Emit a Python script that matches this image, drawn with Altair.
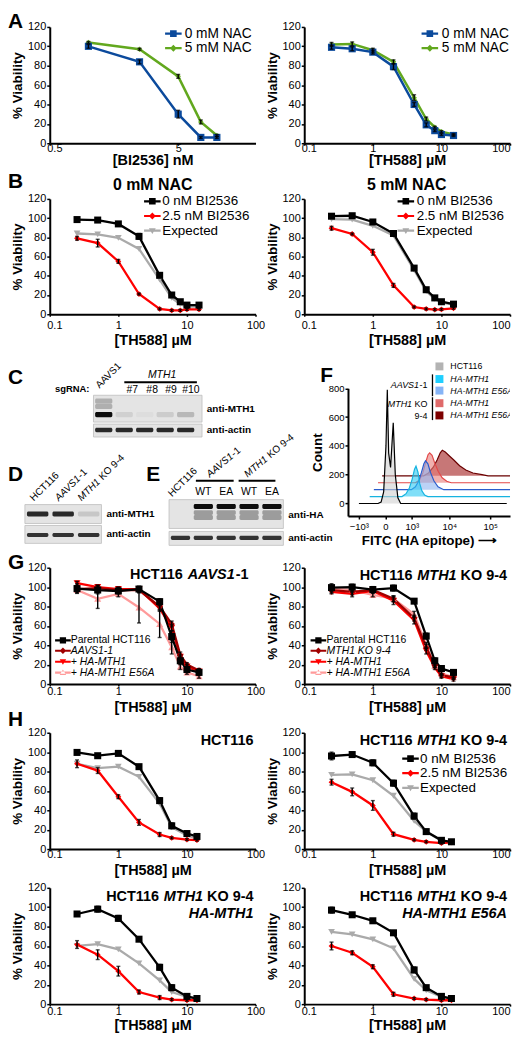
import altair as alt
import pandas as pd
import numpy as np

FONT = "Liberation Sans"

# ======================= DATA =======================
# Panel A
bi2536_nM = [1, 2.5, 5, 7.5, 10]
A1_nac0 = [100, 84, 30, 6, 6]
A1_nac0_err = [2, 2, 4, 1, 1]
A1_nac5 = [104, 97, 69, 22, 8]
A1_nac5_err = [1, 1, 2, 2, 1]

th588_9 = [0.25, 0.5, 1, 2, 4, 6, 8, 10, 15]
A2_nac0 = [99, 97.5, 94, 79, 40, 19, 13, 9, 8]
A2_nac0_err = [2, 2, 2, 3, 2, 2, 1, 1, 1]
A2_nac5 = [102, 102.5, 96, 84, 47, 25, 16.5, 12, 9]
A2_nac5_err = [2, 2, 2, 2, 3, 2, 1, 1, 1]

# Panel B
B1_bi0 = [98.5, 98, 94, 81, 40.5, 20, 13, 9.5, 9.5]
B1_bi0_err = [2, 2, 2, 3, 2, 2, 1, 2, 2]
B1_bi25 = [79, 74, 55, 21, 5.5, 4, 4, 5, 5]
B1_bi25_err = [2, 4, 2, 1, 1, 1, 1, 1, 1]
B1_exp = [84, 83, 79.5, 68, 36, 17, 10.5, 8, 8]

B2_bi0 = [102, 102.5, 96, 84, 48, 25.5, 17, 13, 10.5]
B2_bi0_err = [2, 2, 2, 2, 2, 2, 2, 2, 2]
B2_bi25 = [89.5, 83.5, 64.5, 30, 7.5, 5.5, 4.8, 5, 6.2]
B2_bi25_err = [2, 1, 3, 2, 1, 1, 1, 1, 1]
B2_exp = [99, 98.5, 92, 82, 46, 24, 16, 12, 10]

# Panel C / D / E blots (lane intensities 0..1)
C_lanes = ["AAVS1", "#7", "#8", "#9", "#10"]
C_mth1_band = [1.0, 0.08, 0.03, 0.1, 0.18]
C_mth1_upper = [0.22, 0, 0, 0, 0]
C_actin_band = [0.85, 0.85, 0.85, 0.85, 0.85]
D_lanes = ["HCT116", "AAVS1-1", "MTH1 KO 9-4"]
D_mth1_band = [0.85, 0.85, 0.12]
D_actin_band = [0.8, 0.8, 0.8]
E_lanes = ["HCT116", "WT", "EA", "WT", "EA"]
E_ha_band = [0, 1.0, 1.0, 1.0, 1.0]
E_ha_lower = [0, 0.3, 0.3, 0.3, 0.3]
E_actin_band = [0.8, 0.8, 0.8, 0.8, 0.8]

# Panel F flow histograms (FITC value, count)
flow_names = ["HCT116", "AAVS1-1: HA-MTH1", "AAVS1-1: HA-MTH1 E56A",
              "KO: HA-MTH1", "KO: HA-MTH1 E56A"]
flow_fitc = [
    [-1000, -150, -80, -30, 10, 34, 60, 100, 164, 220, 300, 400, 250000],
    [-600, 300, 450, 600, 750, 900, 1000, 1150, 1300, 1500, 1800, 2200, 250000],
    [-600, 500, 700, 900, 1100, 1300, 1450, 1700, 2000, 2500, 3200, 4500, 250000],
    [-600, 500, 700, 900, 1100, 1300, 1450, 1700, 2000, 2500, 3200, 4200, 5500, 250000],
    [-600, 700, 1000, 1400, 1800, 2200, 2500, 3000, 3800, 5000, 7000, 10000, 15000, 25000, 35000, 250000],
]
flow_count = [
    [0, 0, 10, 80, 400, 790, 350, 250, 560, 200, 40, 0, 0],
    [0, 0, 20, 60, 120, 190, 211, 170, 90, 40, 10, 0, 0],
    [0, 0, 20, 60, 120, 180, 200, 180, 120, 60, 20, 0, 0],
    [0, 0, 20, 70, 140, 195, 208, 190, 140, 80, 35, 10, 0, 0],
    [0, 0, 20, 60, 110, 160, 178, 165, 140, 110, 70, 40, 20, 8, 0, 0],
]

# Panel G
G1_par = [98.5, 97, 96, 98, 85, 49, 24, 15, 12]
G1_par_err = [5, 4, 3, 3, 3, 6, 4, 3, 3]
G1_aavs = [98, 99, 97, 97, 80, 62, 30, 20, 14]
G1_aavs_err = [3, 3, 3, 3, 3, 3, 3, 2, 2]
G1_ha = [104, 100, 98, 98, 78, 58, 28, 18, 13]
G1_ha_err = [2, 2, 2, 2, 3, 3, 2, 2, 2]
G1_e56a = [97, 88, 93, 79, 62, 38, 18, 12, 8]
G1_e56a_err = [3, 10, 3, 16, 14, 7, 3, 2, 2]

G2_par = [99.5, 100, 97.5, 99, 85.5, 49.5, 24, 16, 12]
G2_par_err = [4, 3, 3, 3, 2, 3, 3, 2, 2]
G2_ko = [97, 95, 97, 88, 68, 38, 19, 9, 7]
G2_ko_err = [3, 3, 3, 3, 3, 3, 2, 2, 2]
G2_ha = [95, 93, 96, 86, 66, 34, 17, 8, 5]
G2_ha_err = [2, 3, 2, 4, 4, 3, 2, 2, 2]
G2_e56a = [99, 97, 92, 88, 72, 40, 19, 11, 7]
G2_e56a_err = [2, 2, 2, 3, 3, 3, 2, 2, 2]

# Panel H
th588_8 = [0.25, 0.5, 1, 2, 4, 6, 10, 14]
H1_bi0 = [99.7, 96.3, 98.7, 85, 50, 24, 16, 13]
H1_bi0_err = [2, 2, 2, 2, 3, 3, 2, 2]
H1_bi25 = [88, 81, 54, 27.5, 15, 11.5, 9.8, 9.2]
H1_bi25_err = [4, 3, 2, 3, 2, 1, 1, 1]
H1_exp = [88, 83.5, 85, 74.5, 47, 22.5, 14, 11]

H2_bi0 = [96, 97.5, 89, 68, 34, 18, 9, 7.5]
H2_bi0_err = [4, 2, 3, 3, 3, 2, 2, 2]
H2_bi25 = [69, 59, 45, 15.3, 9.5, 7.5, 6.1, 6.8]
H2_bi25_err = [3, 4, 5, 2, 1, 1, 1, 1]
H2_exp = [76.5, 77, 71, 55, 29, 18, 8.5, 7]

H3_bi0 = [93, 98, 88.5, 67, 38, 17, 8, 5.8]
H3_bi0_err = [2, 3, 3, 2, 3, 3, 2, 1]
H3_bi25 = [61.5, 51, 34, 12.5, 6.8, 4.7, 4, 4]
H3_bi25_err = [4, 5, 5, 2, 2, 1, 1, 1]
H3_exp = [60, 62, 56.5, 42, 24.5, 12.5, 7.5, 5.8]

H4_bi0 = [97, 92.2, 86, 73.6, 35.3, 17, 8, 5.8]
H4_bi0_err = [3, 1, 2, 2, 3, 2, 2, 2]
H4_bi25 = [60, 53, 38.6, 10.2, 5.8, 4.7, 4, 4]
H4_bi25_err = [4, 2, 2, 2, 1, 1, 1, 1]
H4_exp = [74.6, 72, 66.8, 57.6, 26, 14.2, 7.5, 5.8]

# ======================= HELPERS =======================
REG = {' ': 278, '-': 333, '+': 584, '#': 556, '.': 278, ':': 278, '%': 889,
       '(': 333, ')': 333, '[': 278, ']': 278, '\u00b5': 556}
for _d in '0123456789':
    REG[_d] = 556
REG.update(dict(A=667, B=667, C=722, D=722, E=667, F=611, G=778, H=722, I=278, J=500, K=667,
                L=556, M=833, N=722, O=778, P=667, Q=778, R=722, S=667, T=611, U=722, V=667,
                W=944, X=667, Y=667, Z=611))
REG.update(dict(a=556, b=556, c=500, d=556, e=556, f=278, g=556, h=556, i=222, j=222, k=500,
                l=222, m=833, n=556, o=556, p=556, q=556, r=333, s=500, t=278, u=556, v=500,
                w=722, x=500, y=500, z=500))
BOLD = dict(REG)
BOLD.update({'[': 333, ']': 333, ':': 333, '\u00b5': 611})
BOLD.update(dict(A=722, B=722, J=556, K=722, L=611))
BOLD.update(dict(a=556, b=611, c=556, d=611, e=556, f=333, g=611, h=611, i=278, j=278, k=556,
                 l=278, m=889, n=611, o=611, p=611, q=611, r=389, s=556, t=333, u=611, v=556,
                 w=778, x=556, y=556, z=500))


def tw(s, size, bold=False):
    tab = BOLD if bold else REG
    return sum(tab.get(ch, 556) for ch in s) * size / 1000.0


def txt(text, x, y, size=12, bold=False, italic=False, align='left', baseline='middle',
        angle=0, dx=0, color='black', clip=False):
    kw = dict(font=FONT, fontSize=size, fontWeight='bold' if bold else 'normal',
              fontStyle='italic' if italic else 'normal', align=align, baseline=baseline,
              color=color)
    if angle:
        kw['angle'] = angle
    if dx:
        kw['dx'] = dx
    if clip:
        kw['clip'] = True
    return alt.Chart(pd.DataFrame({'t': [text]})).mark_text(**kw).encode(
        text='t:N', x=alt.value(x), y=alt.value(y))


def rich(segs, x, y, size, bold=False, align='left', angle=0, baseline='middle'):
    widths = [tw(t, size, bold) for t, _ in segs]
    total = sum(widths)
    off = {'left': 0, 'center': -total / 2, 'right': -total}[align]
    out = []
    for (t, it), w in zip(segs, widths):
        stripped = t.lstrip(' ')
        lead = tw(t[:len(t) - len(stripped)], size, bold)
        s2 = stripped.rstrip(' ')
        if s2:
            out.append(txt(s2, x, y, size, bold, it, 'left', baseline, angle, dx=off + lead))
        off += w
    return out


def hrule(x1, x2, y, w=2):
    return alt.Chart(pd.DataFrame({'a': [0]})).mark_rule(color='black', strokeWidth=w).encode(
        x=alt.value(x1), x2=alt.value(x2), y=alt.value(y))


def vrule(x, y1, y2, w=1.3):
    return alt.Chart(pd.DataFrame({'a': [0]})).mark_rule(color='black', strokeWidth=w).encode(
        x=alt.value(x), y=alt.value(y1), y2=alt.value(y2))


LINE_P = "M-1.5,-0.2H1.5V0.2H-1.5Z"
MARK_P = {
    'square': "M-0.6,-0.6H0.6V0.6H-0.6Z",
    'diamond': "M0,-0.62L0.62,0L0,0.62L-0.62,0Z",
    'triangle-down': "M-0.62,-0.45L0.62,-0.45L0,0.6Z",
    'triangle-up': "M-0.62,0.45L0.62,0.45L0,-0.6Z",
}


def leg(names, cx, cy, fs, spacing, tx, side=11.1, style='normal'):
    rowh = max(side, fs)
    return dict(names=names, x=cx - side / 2, y=cy - rowh / 2, ss=side ** 2, fs=fs,
                lo=tx - cx - side / 2, rp=spacing - rowh, style=style)


PLOT_W = 207
LEFT_W = 256
RIGHT_W = 207
LOG_TICKS = [0.1, 1, 10, 100]


def curve_panel(xs, series, h, top, xdomain, xticks, xtitle, lab_pad, title_pad, width,
                legends=(), texts=(), right=False):
    rows = []
    for s in series:
        errs = s.get('err') or [0] * len(xs)
        for xv, yv, ev in zip(xs, s['y'], errs):
            rows.append({'x': xv, 'y': yv, 'lo': yv - ev, 'hi': yv + ev, 'e': ev,
                         'series': s['name']})
    df = pd.DataFrame(rows)
    xsc = alt.Scale(type='log', domain=xdomain, range=[0, PLOT_W])
    ysc = alt.Scale(domain=[0, 120], range=[h, top])
    first = xdomain[0]
    conds = [{"test": "datum.value <= %g" % first, "value": "left"}]
    if right:
        conds.append({"test": "datum.value >= 100", "value": "right"})
    axkw = dict(values=xticks, format='~g', title=xtitle, labelPadding=lab_pad,
                titlePadding=title_pad, tickSize=2,
                labelAlign={"condition": conds, "value": "center"},
                labelOffset={"condition": {"test": "datum.value <= %g" % first, "value": -3}, "value": 0})
    xax = alt.Axis(**axkw)
    yax = alt.Axis(values=[0, 20, 40, 60, 80, 100, 120], title='% Viability')
    X = alt.X('x:Q', scale=xsc, axis=xax)
    Y = alt.Y('y:Q', scale=ysc, axis=yax)
    layers = []
    order = list(reversed(series))
    for s in order:
        d = df[df.series == s['name']]
        layers.append(alt.Chart(d).mark_line(color=s['color'], strokeWidth=s.get('lw', 2.3))
                      .encode(x=X, y=Y))
    for s in order:
        d = df[df.series == s['name']]
        layers.append(alt.Chart(d).mark_point(shape=s['shape'], size=s['size'], color=s['color'],
                                              filled=True, opacity=1).encode(x=X, y=Y))
    de = df[df.e > 0]
    layers.append(alt.Chart(de).mark_errorbar(ticks=True, color='black', thickness=1.4, size=4)
                  .encode(x=X, y=alt.Y('lo:Q', scale=ysc, axis=yax), y2='hi:Q'))
    cmap = {s['name']: s['color'] for s in series}
    smap = {s['name']: s['shape'] for s in series}
    for gi, g in enumerate(legends):
        names = g['names']
        fld = 'lg%d' % gi
        L = alt.Legend(title=None, orient='none', legendX=g['x'], legendY=g['y'],
                       symbolSize=g['ss'], symbolStrokeWidth=0, symbolOpacity=1,
                       labelFont=FONT, labelFontSize=g['fs'], labelFontStyle=g['style'],
                       labelColor='black', labelOffset=g['lo'], rowPadding=g['rp'],
                       padding=0, labelLimit=400)
        layers.append(alt.Chart(pd.DataFrame({fld: names})).mark_point(filled=True).encode(
            color=alt.Color(fld + ':N', scale=alt.Scale(domain=names, range=[cmap[n] for n in names]),
                            legend=L),
            shape=alt.Shape(fld + ':N', scale=alt.Scale(domain=names,
                                                        range=[LINE_P + " " + MARK_P[smap[n]] for n in names]),
                            legend=L)).transform_filter('false'))
    layers.extend(texts)
    return alt.layer(*layers).resolve_scale(color='independent', shape='independent').properties(
        width=width, height=h)


def bic_series(y0, e0, y25, e25, yexp):
    return [
        dict(name='0 nM BI2536', y=y0, err=e0, color='#000000', shape='square', size=50),
        dict(name='2.5 nM BI2536', y=y25, err=e25, color='#ff0000', shape='diamond', size=34),
        dict(name='Expected', y=yexp, err=None, color='#aaaaaa', shape='triangle-down', size=45),
    ]


def letter(ch, x, y):
    return txt(ch, x, y, size=21, bold=True, baseline='top')


TH = '[TH588] \u00b5M'

# ======================= ROW A =======================
hA, ptA = 133, 16
A_series1 = [
    dict(name='0 mM NAC', y=A1_nac0, err=A1_nac0_err, color='#0b4a9c', shape='square', size=52, lw=2.5),
    dict(name='5 mM NAC', y=A1_nac5, err=A1_nac5_err, color='#62a81e', shape='diamond', size=30, lw=2.5),
]
A_series2 = [
    dict(name='0 mM NAC', y=A2_nac0, err=A2_nac0_err, color='#0b4a9c', shape='square', size=52, lw=2.5),
    dict(name='5 mM NAC', y=A2_nac5, err=A2_nac5_err, color='#62a81e', shape='diamond', size=30, lw=2.5),
]
rowA_L = curve_panel(bi2536_nM, A_series1, hA, ptA, [0.5, 20], [0.5, 5], '[BI2536] nM', -3, 0.5,
                     LEFT_W, legends=[leg(['0 mM NAC', '5 mM NAC'], 123, ptA + 6.7, 13.8, 13.5, 133)],
                     texts=[letter('A', -42, 0)])
rowA_R = curve_panel(th588_9, A_series2, hA, ptA, [0.1, 100], LOG_TICKS, TH,
                     -3, 0.5, RIGHT_W, right=True,
                     legends=[leg(['0 mM NAC', '5 mM NAC'], 125, ptA + 6.7, 13.8, 13.5, 135.7)])

# ======================= ROW B =======================
hB, ptB = 172, 56
B_names = ['0 nM BI2536', '2.5 nM BI2536', 'Expected']
rowB_L = curve_panel(th588_9, bic_series(B1_bi0, B1_bi0_err, B1_bi25, B1_bi25_err, B1_exp),
                     hB, ptB, [0.1, 100], LOG_TICKS, TH, 3, 3, LEFT_W,
                     legends=[leg(B_names, 102, ptB + 2.4, 13.5, 13.3, 110.7)],
                     texts=[letter('B', -42, ptB - 27.6),
                            txt('0 mM NAC', 103.5, ptB - 13.6, 16, True, align='center')])
rowB_R = curve_panel(th588_9, bic_series(B2_bi0, B2_bi0_err, B2_bi25, B2_bi25_err, B2_exp),
                     hB, ptB, [0.1, 100], LOG_TICKS, TH, 3, 3, RIGHT_W, right=True,
                     legends=[leg(B_names, 101, ptB + 2.4, 13.5, 13.3, 110.7)],
                     texts=[txt('5 mM NAC', 103, ptB - 13.6, 16, True, align='center')])

# ======================= ROW C-F =======================
hCF = 203


def blot(bands, n, xr, yr, x_ext, thick, halfw=0.42):
    rows = []
    for p, inks in bands:
        for i, ink in enumerate(inks):
            if ink > 0:
                rows.append({'li': i, 'p': p, 'ink': ink})
    bdf = pd.DataFrame(rows)
    xsc = alt.Scale(domain=[-0.5, n - 0.5], range=xr)
    ysc = alt.Scale(domain=[0, 1], range=yr)
    bg = alt.Chart(pd.DataFrame({'a': [x_ext[0]], 'b': [x_ext[1]], 'p0': [0], 'p1': [1]})).mark_rect(
        fill='#e4e4e4', stroke='#bdbdbd', strokeWidth=0.8).encode(
        x=alt.X('a:Q', scale=xsc, axis=None), x2='b:Q',
        y=alt.Y('p0:Q', scale=ysc, axis=None), y2='p1:Q')
    bd = alt.Chart(bdf).transform_calculate(
        l0='datum.li - %g' % halfw, l1='datum.li + %g' % halfw,
        q0='datum.p - %g' % (thick / 2), q1='datum.p + %g' % (thick / 2)).mark_rect(
        cornerRadius=1.5).encode(
        x=alt.X('l0:Q', scale=xsc, axis=None), x2='l1:Q',
        y=alt.Y('q0:Q', scale=ysc, axis=None), y2='q1:Q',
        color=alt.Color('ink:Q', scale=alt.Scale(domain=[0, 1], range=['#e4e4e4', '#0d0d0d']),
                        legend=None))
    return alt.layer(bg, bd)


blots = [
    blot([(0.22, C_mth1_upper), (0.42, C_mth1_upper), (0.72, C_mth1_band)], 5, [44, 147], [81.5, 108.5],
         (-0.5, 4.8), 0.19),
    blot([(0.46, C_actin_band)], 5, [44, 147], [110.5, 123.5], (-0.5, 4.8), 0.36),
    blot([(0.5, D_mth1_band)], 3, [-25, 52], [191.5, 210.5], (-0.5, 2.5), 0.26),
    blot([(0.53, D_actin_band)], 3, [-25, 52], [212.5, 230.5], (-0.5, 2.5), 0.22),
    blot([(0.24, E_ha_band), (0.45, E_ha_lower), (0.62, E_ha_lower)], 5, [120, 235], [186.5, 215.5],
         (-0.5, 4.5), 0.17),
    blot([(0.46, E_actin_band)], 5, [120, 235], [218.5, 232.5], (-0.5, 4.5), 0.3),
]

cf_texts = [
    letter('C', -42, 53.5),
    txt('sgRNA:', 40, 75.5, 9.5, True, align='right'),
    txt('AAVS1', 50, 75, 10, angle=315, baseline='alphabetic'),
    txt('MTH1', 113, 61.5, 10.5, italic=True, align='center'),
    hrule(75, 148, 68.5),
    txt('#7', 83, 76.5, 10.5, align='center'),
    txt('#8', 103, 76.5, 10.5, align='center'),
    txt('#9', 122, 76.5, 10.5, align='center'),
    txt('#10', 142, 76.5, 10.5, align='center'),
    txt('anti-MTH1', 158, 95.2, 10, True),
    txt('anti-actin', 158, 116.2, 10, True),
    letter('D', -42, 150.5),
    txt('HCT116', -16, 188.5, 10, angle=315, baseline='alphabetic'),
    *rich([('AAVS1', True), ('-1', False)], 9, 188.5, 10, angle=315, baseline='alphabetic'),
    *rich([('MTH1', True), (' KO 9-4', False)], 32, 188.5, 10, angle=315, baseline='alphabetic'),
    txt('anti-MTH1', 57, 200.5, 10, True),
    txt('anti-actin', 57, 221.5, 10, True),
    letter('E', 97, 150.5),
    txt('HCT116', 123, 184, 10, angle=315, baseline='alphabetic'),
    *rich([('AAVS1', True), ('-1', False)], 161, 164.5, 10, angle=320, baseline='alphabetic'),
    *rich([('MTH1', True), (' KO 9-4', False)], 199, 164.5, 10, angle=320, baseline='alphabetic'),
    hrule(147, 185, 167.5),
    hrule(190, 227, 167.5),
    txt('WT', 154.5, 178.5, 10.5, align='center'),
    txt('EA', 177.5, 178.5, 10.5, align='center'),
    txt('WT', 200.5, 178.5, 10.5, align='center'),
    txt('EA', 223.5, 178.5, 10.5, align='center'),
    txt('anti-HA', 240, 201.5, 10, True),
    txt('anti-actin', 240, 225.5, 10, True),
]
rowCF_L = alt.layer(*blots, *cf_texts).resolve_scale(
    x='independent', y='independent', color='independent').properties(width=LEFT_W, height=hCF)

# ---- Panel F (flow) ----
FLOW_C = 300.0
FDX, FDY = 0.1, 48


def tpos(v):
    v = np.asarray(v, dtype=float)
    return np.sign(v) * np.log10(1 + np.abs(v) / FLOW_C)


frows = []
for k, (nm, fv, fc) in enumerate(zip(flow_names, flow_fitc, flow_count)):
    tt = tpos(fv)
    for a, c in zip(tt, fc):
        frows.append({'series': nm, 't': float(a) + k * FDX, 'c': c + k * FDY, 'base': k * FDY})
fdf = pd.DataFrame(frows)
flow_fill = ['#d0d0d0', '#2cc9f3', '#8db4f0', '#e67b78', '#a11d1d']
flow_line = ['#000000', '#17b3e0', '#2a5ccc', '#e34848', '#6a0000']
flow_leg = ['#b3b3b3', '#1fcfff', '#86b4f6', '#df6a6a', '#7d0000']
fx_ticks = [float(tpos(-1000)), 0.0, float(tpos(1000)), float(tpos(1e4)), float(tpos(1e5))]
fxsc = alt.Scale(domain=[-0.9, 3.0], range=[44, 207], clamp=True)
fysc = alt.Scale(domain=[-87, 800], range=[hCF, 74.5])
fxax = alt.Axis(values=fx_ticks, title='FITC (HA epitope) \u27f6', tickSize=3, labelPadding=3,
                titlePadding=2, labelFontSize=9.5, titleFontSize=13.5,
                labelExpr="datum.value < -0.3 ? '\u221210\u00b3' : datum.value < 0.3 ? '0' : "
                          "datum.value < 1 ? '10\u00b3' : datum.value < 2 ? '10\u2074' : '10\u2075'")
fyax = alt.Axis(values=[0, 200, 400, 600, 800], title='Count', offset=-44, titleFontSize=13.5,
                labelFontSize=9.5, titlePadding=4, tickSize=3)
FX = alt.X('t:Q', scale=fxsc, axis=fxax)
FY = alt.Y('c:Q', scale=fysc, axis=fyax)
flayers = []
for k in reversed(range(5)):
    d = fdf[fdf.series == flow_names[k]]
    flayers.append(alt.Chart(d).mark_area(color=flow_fill[k], opacity=0.6).encode(
        x=FX, y=FY, y2='base:Q'))
    flayers.append(alt.Chart(d).mark_line(color=flow_line[k], strokeWidth=1.2).encode(x=FX, y=FY))

# legend of panel F (drawn as annotation, clipped at the panel edge like the original)
f_leg_rows = [52.5, 65.2, 76.8, 89.5, 101.8]
f_leg = []
for k, nm in enumerate(flow_names):
    lbl = nm.split(': ')[-1]
    f_leg.append(alt.Chart(pd.DataFrame({'n': [nm]})).mark_square(size=64, color=flow_leg[k], opacity=1)
                 .encode(x=alt.value(136), y=alt.value(f_leg_rows[k])))
    f_leg.append(txt(lbl, 147, f_leg_rows[k], 8.8, italic=(k > 0), clip=True))

f_texts = [
    letter('F', 16, 51.5),
    *rich([('AAVS1', True), ('-1', False)], 124, 71.5, 9, align='right'),
    vrule(129, 60.5, 82.5),
    *rich([('MTH1', True), (' KO', False)], 124, 90.5, 9, align='right'),
    txt('9-4', 124, 102, 9, align='right'),
    vrule(129, 83.5, 106.5),
]
rowCF_R = alt.layer(*flayers, *f_leg, *f_texts).properties(width=RIGHT_W, height=hCF)

# ======================= ROW G =======================
hG, ptG = 169, 52
G_series1 = [
    dict(name='Parental HCT116', y=G1_par, err=G1_par_err, color='#000000', shape='square', size=50),
    dict(name='AAVS1-1', y=G1_aavs, err=G1_aavs_err, color='#a00000', shape='diamond', size=40),
    dict(name='+ HA-MTH1', y=G1_ha, err=G1_ha_err, color='#ff0000', shape='triangle-down', size=50),
    dict(name='+ HA-MTH1 E56A', y=G1_e56a, err=G1_e56a_err, color='#ff9a9a', shape='triangle-up', size=50),
]
G_series2 = [
    dict(name='Parental HCT116', y=G2_par, err=G2_par_err, color='#000000', shape='square', size=50),
    dict(name='MTH1 KO 9-4', y=G2_ko, err=G2_ko_err, color='#a00000', shape='diamond', size=40),
    dict(name='+ HA-MTH1', y=G2_ha, err=G2_ha_err, color='#ff0000', shape='triangle-down', size=50),
    dict(name='+ HA-MTH1 E56A', y=G2_e56a, err=G2_e56a_err, color='#ff9a9a', shape='triangle-up', size=50),
]
rowG_L = curve_panel(
    th588_9, G_series1, hG, ptG, [0.1, 100], LOG_TICKS, TH, 0, 3.5, LEFT_W,
    legends=[leg(['Parental HCT116'], 13, ptG + 72.8, 10.5, 10.5, 20.7, side=10.5),
             leg(['AAVS1-1', '+ HA-MTH1', '+ HA-MTH1 E56A'], 13, ptG + 83.3, 10.5, 10.5, 20.7,
                 side=10.5, style='italic')],
    texts=[letter('G', -42, ptG - 15.7),
           *rich([('HCT116 ', False), ('AAVS1', True), ('-1', False)], 200, ptG + 7.3, 14.5, True,
                 align='right')])
rowG_R = curve_panel(
    th588_9, G_series2, hG, ptG, [0.1, 100], LOG_TICKS, TH, 0, 3.5, RIGHT_W, right=True,
    legends=[leg(['Parental HCT116'], 14, ptG + 72.8, 10.5, 10.5, 22, side=10.5),
             leg(['MTH1 KO 9-4', '+ HA-MTH1', '+ HA-MTH1 E56A'], 14, ptG + 83.3, 10.5, 10.5, 22,
                 side=10.5, style='italic')],
    texts=[*rich([('HCT116 ', False), ('MTH1', True), (' KO 9-4', False)], 204, ptG + 8.3, 14.5, True,
                 align='right')])

# ======================= ROW H1 =======================
hH1, ptH1 = 166, 49
rowH1_L = curve_panel(
    th588_8, bic_series(H1_bi0, H1_bi0_err, H1_bi25, H1_bi25_err, H1_exp), hH1, ptH1,
    [0.1, 100], LOG_TICKS, TH, -2, 3.2, LEFT_W,
    texts=[letter('H', -42, ptH1 - 24), txt('HCT116', 205, ptH1 + 8.3, 14.5, True, align='right')])
rowH1_R = curve_panel(
    th588_8, bic_series(H2_bi0, H2_bi0_err, H2_bi25, H2_bi25_err, H2_exp), hH1, ptH1,
    [0.1, 100], LOG_TICKS, TH, -2, 3.2, RIGHT_W, right=True,
    legends=[leg(B_names, 105.7, ptH1 + 26, 13.5, 13.2, 114)],
    texts=[*rich([('HCT116 ', False), ('MTH1', True), (' KO 9-4', False)], 204, ptH1 + 8.3, 14.5, True,
                 align='right')])

# ======================= ROW H2 =======================
hH2, ptH2 = 156, 39
rowH2_L = curve_panel(
    th588_8, bic_series(H3_bi0, H3_bi0_err, H3_bi25, H3_bi25_err, H3_exp), hH2, ptH2,
    [0.1, 100], LOG_TICKS, TH, -0.5, 2, LEFT_W,
    texts=[*rich([('HCT116 ', False), ('MTH1', True), (' KO 9-4', False)], 205, ptH2 + 9, 14.5, True,
                 align='right'),
           txt('HA-MTH1', 205, ptH2 + 26.6, 14.5, True, True, align='right')])
rowH2_R = curve_panel(
    th588_8, bic_series(H4_bi0, H4_bi0_err, H4_bi25, H4_bi25_err, H4_exp), hH2, ptH2,
    [0.1, 100], LOG_TICKS, TH, -0.5, 2, RIGHT_W, right=True,
    texts=[*rich([('HCT116 ', False), ('MTH1', True), (' KO 9-4', False)], 204, ptH2 + 9, 14.5, True,
                 align='right'),
           txt('HA-MTH1 E56A', 204, ptH2 + 26.6, 14.5, True, True, align='right')])

cells = [rowA_L, rowA_R, rowB_L, rowB_R, rowCF_L, rowCF_R, rowG_L, rowG_R,
         rowH1_L, rowH1_R, rowH2_L, rowH2_R]

chart = alt.concat(*cells, columns=2, spacing=0, bounds='flush', align='each').properties(
    padding=0
).configure_view(stroke=None).configure_axis(
    domainColor='black', domainWidth=2, tickColor='black', tickWidth=1.5, tickSize=3,
    labelFont=FONT, labelFontSize=11, labelColor='black', labelFlush=False,
    titleFont=FONT, titleFontSize=14.5, titleFontWeight='bold', titleColor='black', grid=False
).configure_axisY(titleFontSize=13.5, titlePadding=3, labelPadding=1)

chart.save("out.html", embed_options={"renderer": "svg", "actions": False})
